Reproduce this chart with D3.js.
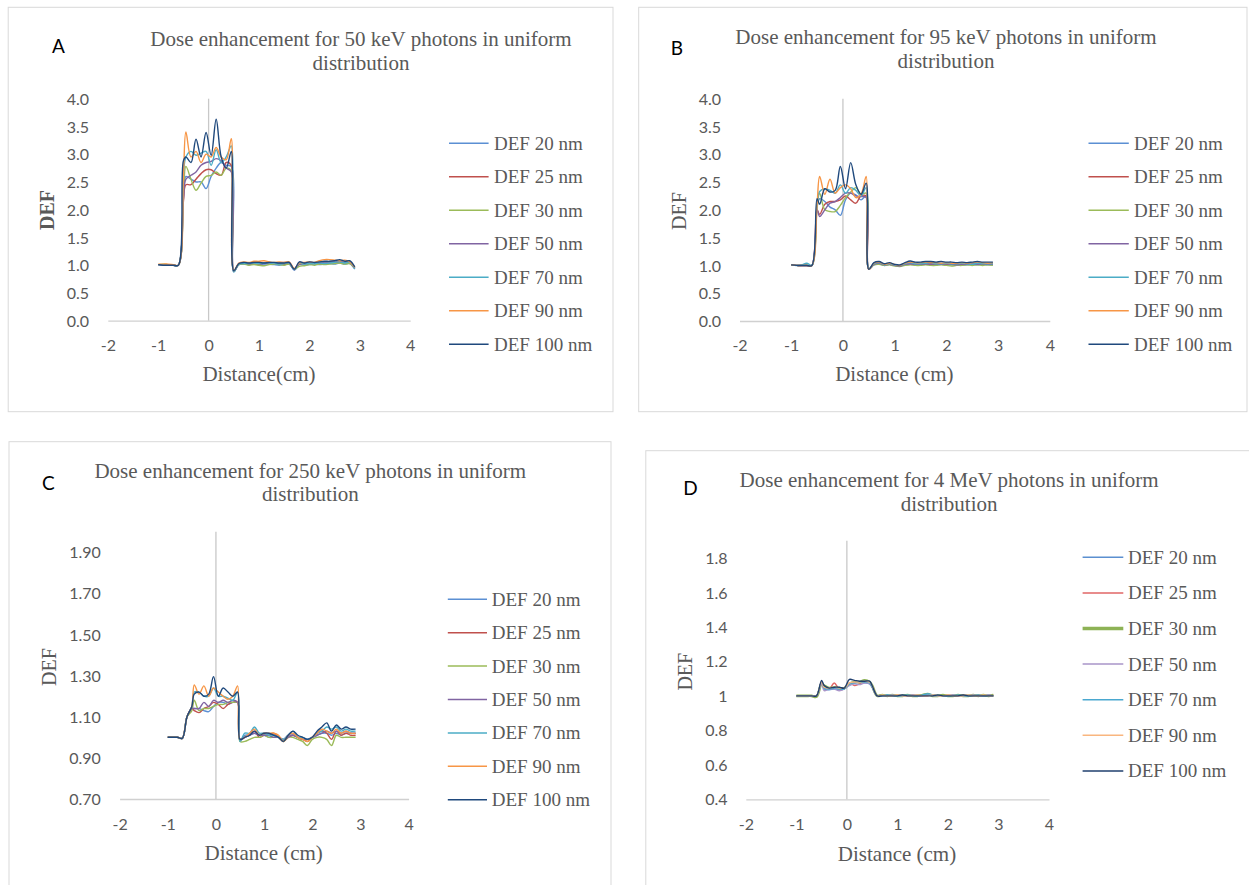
<!DOCTYPE html>
<html>
<head>
<meta charset="utf-8">
<script src="https://cdn.jsdelivr.net/npm/d3@7"></script>
<style>
  body { margin: 0; background: #fff; }
  .serif { font-family: "Liberation Serif", "Times New Roman", serif; fill: #595959; }
  .sans { font-family: Lato, "Open Sans", sans-serif; fill: #595959; }
</style>
</head>
<body>
<div id="chart"></div>
<script>
// ---- data ----
const distance = [-1.0,-0.9,-0.8,-0.7,-0.6,-0.5,-0.45,-0.35,-0.25,-0.15,-0.05,0.05,0.15,0.25,0.35,0.45,0.5,0.6,0.7,0.8,0.9,1.0,1.1,1.2,1.3,1.4,1.5,1.6,1.7,1.8,1.9,2.0,2.1,2.2,2.3,2.4,2.5,2.6,2.7,2.8,2.9];
const seriesNames = ["DEF 20 nm","DEF 25 nm","DEF 30 nm","DEF 50 nm","DEF 70 nm","DEF 90 nm","DEF 100 nm"];
const xTicks = [-2,-1,0,1,2,3,4];
const yTicksAB = [0,0.5,1,1.5,2,2.5,3,3.5,4];
const yTicksC = [0.7,0.9,1.1,1.3,1.5,1.7,1.9];
const yTicksD = [0.4,0.6,0.8,1,1.2,1.4,1.6,1.8];

// A: 50 keV
const a20  = [1.01,1.0,1.0,1.0,1.0,2.2, 2.6,2.55,2.5,2.5,2.38,2.6,2.75,2.85,2.8,2.78, 0.88,1.01,1.02,1.01,1.02,1.01,1.02,1.02,1.01,1.0,1.01,1.02,0.91,1.01,1.0,1.01,1.02,1.01,1.02,1.03,1.02,1.04,1.02,1.03,0.93];
const a25  = [1.01,1.01,1.0,1.0,1.0,2.15, 2.45,2.45,2.55,2.65,2.72,2.72,2.65,2.62,2.85,2.8, 0.9,1.02,1.03,1.02,1.03,1.02,1.04,1.03,1.02,1.03,1.02,1.03,0.92,1.02,1.03,1.02,1.04,1.03,1.04,1.05,1.04,1.06,1.05,1.04,0.96];
const a30  = [1.01,1.02,1.01,1.0,1.0,2.3, 2.78,2.55,2.35,2.48,2.6,2.62,2.68,2.62,2.75,2.7, 0.9,1.01,1.02,1.0,1.01,1.0,0.99,1.01,1.02,1.01,1.0,1.02,0.93,0.98,0.99,1.01,1.0,1.02,1.01,1.02,1.03,1.04,1.02,1.03,0.95];
const a50  = [1.01,1.01,1.01,1.0,1.0,2.2, 2.55,2.62,2.68,2.8,2.85,2.87,2.92,2.88,2.75,2.68, 0.89,1.03,1.04,1.03,1.05,1.04,1.03,1.05,1.04,1.04,1.05,1.04,0.93,1.04,1.03,1.05,1.04,1.05,1.05,1.06,1.06,1.07,1.05,1.06,0.95];
const a70  = [1.01,1.01,1.0,1.0,1.0,2.6, 2.95,3.05,2.98,3.02,3.05,2.8,3.08,2.85,2.95,3.15, 0.88,1.02,1.03,1.03,1.04,1.03,1.04,1.04,1.03,1.02,1.03,1.04,0.92,1.03,1.02,1.03,1.03,1.04,1.03,1.04,1.05,1.06,1.04,1.05,0.94];
const a90  = [1.02,1.02,1.02,1.01,1.0,2.6, 3.4,2.95,3.05,2.85,3.0,2.95,3.12,2.95,2.9,3.28, 0.9,1.04,1.06,1.05,1.07,1.07,1.08,1.06,1.05,1.06,1.05,1.06,0.94,1.04,1.05,1.06,1.05,1.08,1.1,1.1,1.09,1.08,1.09,1.06,0.96];
const a100 = [1.01,1.0,1.0,1.0,1.0,2.88, 2.95,2.85,3.27,2.95,3.39,2.98,3.63,2.95,2.75,3.05, 0.9,1.03,1.05,1.04,1.05,1.05,1.04,1.05,1.05,1.04,1.04,1.05,0.93,1.06,1.04,1.06,1.05,1.06,1.07,1.07,1.08,1.1,1.07,1.08,0.97];

// B: 95 keV
const b20  = [1.01,1.0,1.0,1.0,1.0,2.05, 2.2,2.15,2.05,2.0,1.9,2.18,2.3,2.27,2.18,2.25, 0.94,1.01,1.03,1.0,1.02,1.0,0.99,1.01,1.02,1.01,1.01,1.02,1.01,1.01,1.02,1.01,1.01,1.02,1.01,1.01,1.02,1.01,1.02,1.01,1.01];
const b25  = [1.01,1.0,1.0,1.0,1.0,2.0, 1.92,2.1,2.15,2.15,2.18,2.25,2.18,2.12,2.25,2.25, 0.93,1.02,1.03,1.01,1.02,1.0,0.99,1.02,1.04,1.02,1.03,1.02,1.03,1.02,1.03,1.02,1.03,1.02,1.03,1.02,1.03,1.03,1.02,1.03,1.03];
const b30  = [1.01,1.0,1.0,1.01,1.0,2.05, 2.3,2.0,1.97,1.97,2.08,2.22,2.32,2.4,2.28,2.3, 0.94,1.01,1.02,1.0,1.01,0.99,0.98,1.0,1.01,1.0,1.0,1.01,1.0,1.0,1.01,1.0,0.99,1.0,1.0,1.01,1.0,1.01,1.0,1.01,1.0];
const b50  = [1.01,1.0,1.0,1.0,1.0,2.0, 1.88,2.0,2.12,2.15,2.22,2.3,2.3,2.25,2.24,2.22, 0.94,1.02,1.04,1.01,1.02,1.0,0.99,1.02,1.03,1.02,1.02,1.03,1.02,1.03,1.02,1.03,1.02,1.01,1.02,1.02,1.03,1.02,1.03,1.02,1.02];
const b70  = [1.01,1.0,1.01,1.04,1.0,2.1, 2.33,2.38,2.35,2.3,2.45,2.3,2.4,2.35,2.25,2.4, 0.94,1.03,1.05,1.01,1.03,1.01,1.0,1.03,1.05,1.03,1.03,1.04,1.05,1.03,1.03,1.04,1.03,1.03,1.04,1.03,1.02,1.04,1.03,1.03,1.03];
const b90  = [1.01,1.0,1.0,1.0,1.0,2.1, 2.6,2.28,2.55,2.3,2.4,2.45,2.38,2.22,2.28,2.6, 0.93,1.04,1.06,1.02,1.04,1.02,1.0,1.04,1.06,1.05,1.05,1.06,1.05,1.05,1.04,1.05,1.04,1.04,1.05,1.04,1.05,1.06,1.05,1.04,1.05];
const b100 = [1.01,1.0,1.0,1.0,1.0,2.2, 2.1,2.38,2.32,2.35,2.78,2.38,2.85,2.45,2.28,2.48, 0.93,1.05,1.07,1.03,1.05,1.02,1.01,1.05,1.08,1.06,1.06,1.07,1.07,1.06,1.07,1.06,1.06,1.05,1.06,1.05,1.06,1.07,1.06,1.06,1.06];

// C: 250 keV
const c20  = [1.0,1.0,1.0,0.995,1.1,1.14, 1.14,1.14,1.13,1.125,1.15,1.17,1.17,1.16,1.17,1.17, 0.98,1.01,1.01,1.02,1.01,1.01,1.0,1.01,1.0,0.99,1.01,1.01,1.0,0.99,0.99,1.0,1.01,1.02,1.02,1.01,1.02,1.01,1.02,1.02,1.02];
const c25  = [1.0,1.0,1.0,0.995,1.1,1.14, 1.13,1.12,1.14,1.15,1.17,1.16,1.14,1.16,1.17,1.17, 0.99,1.0,1.01,1.03,1.0,1.01,1.01,1.02,1.0,0.98,1.0,1.01,1.0,0.99,0.98,1.0,1.02,1.03,1.02,0.99,1.03,1.01,1.02,1.01,1.01];
const c30  = [1.0,1.0,1.0,0.995,1.1,1.13, 1.18,1.13,1.14,1.14,1.15,1.16,1.16,1.17,1.17,1.17, 0.98,0.98,0.99,1.0,1.0,1.01,1.0,1.0,1.0,0.98,1.0,1.0,0.99,0.98,0.96,0.99,1.0,1.0,0.99,0.96,1.01,1.0,1.0,1.0,1.0];
const c50  = [1.0,1.0,1.0,0.995,1.1,1.14, 1.14,1.14,1.17,1.15,1.18,1.17,1.18,1.17,1.18,1.17, 0.99,1.0,1.01,1.02,1.01,1.01,1.01,1.0,1.0,0.99,1.0,1.01,1.0,0.99,0.99,1.0,1.01,1.02,1.03,1.02,1.03,1.02,1.03,1.02,1.02];
const c70  = [1.0,1.0,1.0,0.995,1.1,1.15, 1.22,1.22,1.2,1.2,1.24,1.2,1.2,1.19,1.18,1.22, 0.98,1.02,1.02,1.05,1.02,1.02,1.01,1.01,1.0,0.99,1.01,1.03,1.0,1.0,0.99,1.0,1.02,1.03,1.05,1.04,1.05,1.03,1.04,1.03,1.03];
const c90  = [1.0,1.0,1.0,0.995,1.1,1.15, 1.255,1.21,1.25,1.2,1.24,1.22,1.2,1.185,1.2,1.25, 0.99,1.0,1.02,1.04,1.01,1.02,1.02,1.02,1.01,0.98,1.01,1.02,1.0,0.99,0.98,1.0,1.02,1.04,1.03,1.02,1.04,1.02,1.03,1.02,1.02];
const c100 = [1.0,1.0,1.0,0.995,1.1,1.15, 1.21,1.22,1.2,1.21,1.295,1.2,1.24,1.22,1.2,1.22, 0.99,1.0,1.01,1.03,1.01,1.02,1.02,1.01,1.0,0.98,1.01,1.03,1.01,1.0,0.99,1.0,1.03,1.05,1.07,1.03,1.06,1.04,1.05,1.04,1.04];

// D: 4 MeV
const d20  = [1.0,1.0,1.0,1.0,1.0,1.08, 1.04,1.035,1.04,1.035,1.04,1.07,1.08,1.08,1.075,1.07, 1.05,1.0,1.0,1.005,1.0,1.0,1.005,1.0,1.0,1.005,1.0,1.005,1.0,1.0,1.0,1.0,1.005,1.0,1.0,1.005,1.0,1.0,1.0,1.005,1.0];
const d25  = [1.0,1.0,1.0,1.0,1.0,1.08, 1.05,1.04,1.075,1.04,1.04,1.075,1.06,1.07,1.08,1.08, 1.05,1.0,1.005,1.0,1.0,1.005,1.0,1.0,1.005,1.0,1.0,1.0,1.005,1.0,1.0,1.005,1.0,1.0,1.005,1.0,1.0,1.005,1.0,1.0,1.005];
const d30  = [1.0,1.0,1.0,1.0,0.995,1.07, 1.06,1.045,1.05,1.045,1.045,1.07,1.08,1.08,1.09,1.08, 1.06,1.0,1.005,1.0,1.005,1.0,1.0,1.005,1.0,1.0,1.005,1.01,1.0,1.0,1.005,1.0,1.0,1.005,1.0,1.0,1.005,1.0,1.005,1.0,1.005];
const d50  = [1.0,1.0,1.0,1.0,1.0,1.07, 1.03,1.04,1.04,1.03,1.04,1.06,1.07,1.065,1.075,1.07, 1.05,1.0,1.0,1.0,1.005,1.0,1.0,1.0,1.005,1.0,1.0,1.005,1.0,1.0,1.0,1.0,1.005,1.0,1.0,1.0,1.005,1.0,1.0,1.005,1.0];
const d70  = [1.0,1.0,1.0,1.0,1.0,1.08, 1.045,1.04,1.045,1.04,1.04,1.07,1.075,1.08,1.08,1.075, 1.05,1.0,1.0,1.005,1.0,1.0,1.0,1.005,1.0,1.0,1.005,1.012,1.005,1.0,1.0,1.0,1.0,1.005,1.0,1.0,1.0,1.005,1.0,1.0,1.0];
const d90  = [1.0,1.0,1.0,1.0,1.0,1.08, 1.05,1.045,1.05,1.045,1.045,1.075,1.08,1.08,1.085,1.08, 1.06,1.0,1.005,1.0,1.0,1.005,1.0,1.0,1.0,1.005,1.0,1.0,1.005,1.0,1.0,1.005,1.0,1.0,1.0,1.005,1.0,1.0,1.005,1.0,1.0];
const d100 = [1.0,1.0,1.0,1.0,1.0,1.09, 1.06,1.045,1.05,1.05,1.045,1.095,1.09,1.085,1.085,1.085, 1.06,1.0,1.0,1.0,1.0,1.0,1.005,1.0,1.0,1.0,1.0,1.0,1.0,1.005,1.0,1.0,1.0,1.0,1.005,1.0,1.0,1.0,1.0,1.0,1.0];

const colors  = ["#5B8FD3","#C0504D","#9BBB59","#8064A2","#4BACC6","#F79646","#1F497D"];
const colorsD = ["#5B8FD0","#E06666","#8DB255","#A995C9","#4AA8D0","#F9B67F","#1F3F6E"];

const fmt1 = d3.format(".1f");

// layout of the four panels
const panels = [
  { letter: "A", title: ["Dose enhancement for 50 keV photons in uniform", "distribution"],
    series: [a20,a25,a30,a50,a70,a90,a100], colors: colors, yTicks: yTicksAB, yFormat: fmt1,
    defBold: true, xTitle: "Distance(cm)",
    frame: [8.2, 7.3, 613, 411.7], xRange: [107.8, 410.2], yDomain: [0, 4], yRange: [320.7, 98.7],
    yLabelX: 89, xLabelY: 345, titleX: 361, titleY: [45.7, 70.3], letterPos: [58.5, 52.7],
    defPos: [47, 210], xTitlePos: [259, 381],
    legend: { x0: 449, x1: 488.6, tx: 494, y0: 143.3, dy: 33.5 } },
  { letter: "B", title: ["Dose enhancement for 95 keV photons in uniform", "distribution"],
    series: [b20,b25,b30,b50,b70,b90,b100], colors: colors, yTicks: yTicksAB, yFormat: fmt1,
    defBold: false, xTitle: "Distance (cm)",
    frame: [638.7, 7.3, 1247, 411.7], xRange: [739.5, 1049.8], yDomain: [0, 4], yRange: [321, 98.7],
    yLabelX: 721, xLabelY: 345, titleX: 946, titleY: [44, 68.3], letterPos: [677, 55],
    defPos: [679.4, 211], xTitlePos: [894.4, 381],
    legend: { x0: 1088.5, x1: 1128.8, tx: 1134, y0: 143.3, dy: 33.5 } },
  { letter: "C", title: ["Dose enhancement for 250 keV photons in uniform", "distribution"],
    series: [c20,c25,c30,c50,c70,c90,c100], colors: colors, yTicks: yTicksC, yFormat: d3.format(".2f"),
    defBold: false, xTitle: "Distance (cm)",
    frame: [9, 441.7, 611, 900], xRange: [119.6, 408.6], yDomain: [0.7, 2.0], yRange: [799, 531.7],
    yLabelX: 100.8, xLabelY: 824.3, titleX: 310.3, titleY: [477.7, 500.7], letterPos: [48.4, 490],
    defPos: [48.6, 667], xTitlePos: [263.7, 860],
    legend: { x0: 447.8, x1: 487, tx: 491.8, y0: 599.3, dy: 33.4 } },
  { letter: "D", title: ["Dose enhancement for 4 MeV photons in uniform", "distribution"],
    series: [d20,d25,d30,d50,d70,d90,d100], colors: colorsD, yTicks: yTicksD,
    yFormat: d => fmt1(d).replace(/\.0$/, ""),
    defBold: false, xTitle: "Distance (cm)", thickIndex: 2,
    frame: [645.8, 450.7, 1260, 900], xRange: [745.8, 1049], yDomain: [0.4, 1.9], yRange: [799.3, 540.7],
    yLabelX: 727.6, xLabelY: 824.3, titleX: 949.1, titleY: [486.7, 511], letterPos: [690.5, 495],
    defPos: [685, 671.7], xTitlePos: [897, 860.7],
    legend: { x0: 1082.6, x1: 1123.3, tx: 1128, y0: 557.3, dy: 35.6 } }
];

const svg = d3.select("#chart").append("svg")
  .attr("width", 1249)
  .attr("height", 885);

panels.forEach(p => {
  const g = svg.append("g");

  // panel frame
  g.append("rect")
    .attr("x", p.frame[0]).attr("y", p.frame[1])
    .attr("width", p.frame[2] - p.frame[0]).attr("height", p.frame[3] - p.frame[1])
    .attr("fill", "none").attr("stroke", "#D9D9D9").attr("stroke-width", 1);

  const x = d3.scaleLinear().domain([-2, 4]).range(p.xRange);
  const y = d3.scaleLinear().domain(p.yDomain).range(p.yRange);

  // x axis (line + labels), plain hyphen for negatives like the original
  const xAxis = g.append("g")
    .attr("transform", `translate(0, ${p.yRange[0]})`)
    .call(d3.axisBottom(x).tickValues(xTicks).tickSize(0).tickFormat(d => String(d)));
  xAxis.select(".domain").attr("stroke", "#D0D0D0").attr("stroke-width", 1.3);
  xAxis.selectAll("text")
    .attr("class", "sans")
    .attr("y", p.xLabelY - p.yRange[0])
    .attr("dy", "0.35em")
    .style("font-size", "16px");

  // y labels sit on the left, the value axis line crosses at x = 0
  const yAxis = g.append("g")
    .attr("transform", `translate(${p.yLabelX}, 0)`)
    .call(d3.axisLeft(y).tickValues(p.yTicks).tickSize(0).tickPadding(0).tickFormat(p.yFormat));
  yAxis.select(".domain").remove();
  yAxis.selectAll("text")
    .attr("class", "sans")
    .attr("dy", "0.35em")
    .style("font-size", "16px");

  g.append("line")
    .attr("x1", x(0)).attr("x2", x(0))
    .attr("y1", p.yRange[0]).attr("y2", p.yRange[1])
    .attr("stroke", "#C8C8C8").attr("stroke-width", 1.3);

  // lines
  const line = d3.line()
    .x(d => x(d[0]))
    .y(d => y(d[1]))
    .curve(d3.curveCatmullRom.alpha(0.5));

  p.series.forEach((vals, i) => {
    g.append("path")
      .datum(distance.map((d, k) => [d, vals[k]]))
      .attr("fill", "none")
      .attr("stroke", p.colors[i])
      .attr("stroke-width", i === p.thickIndex ? 2.6 : 1.4)
      .attr("stroke-linejoin", "round")
      .attr("d", line);
  });

  // title
  p.title.forEach((t, i) => {
    g.append("text")
      .attr("class", "serif")
      .attr("x", p.titleX).attr("y", p.titleY[i])
      .attr("text-anchor", "middle")
      .style("font-size", "21px")
      .text(t);
  });

  // panel letter
  g.append("text")
    .attr("x", p.letterPos[0]).attr("y", p.letterPos[1])
    .attr("text-anchor", "middle")
    .style("font-family", "Lato, 'Open Sans', sans-serif")
    .style("font-size", "19px")
    .attr("fill", "#000")
    .text(p.letter);

  // axis titles
  g.append("text")
    .attr("class", "serif")
    .attr("transform", `translate(${p.defPos[0]}, ${p.defPos[1]}) rotate(-90)`)
    .attr("text-anchor", "middle")
    .attr("dominant-baseline", "central")
    .style("font-size", "20px")
    .style("font-weight", p.defBold ? "bold" : "normal")
    .text("DEF");

  g.append("text")
    .attr("class", "serif")
    .attr("x", p.xTitlePos[0]).attr("y", p.xTitlePos[1])
    .attr("text-anchor", "middle")
    .style("font-size", "21px")
    .text(p.xTitle);

  // legend
  const lg = g.append("g");
  seriesNames.forEach((name, i) => {
    const yy = p.legend.y0 + i * p.legend.dy;
    lg.append("line")
      .attr("x1", p.legend.x0).attr("x2", p.legend.x1)
      .attr("y1", yy).attr("y2", yy)
      .attr("stroke", p.colors[i])
      .attr("stroke-width", i === p.thickIndex ? 3.5 : 1.5);
    lg.append("text")
      .attr("class", "serif")
      .attr("x", p.legend.tx).attr("y", yy)
      .attr("dominant-baseline", "central")
      .style("font-size", "19px")
      .text(name);
  });
});
</script>
</body>
</html>
